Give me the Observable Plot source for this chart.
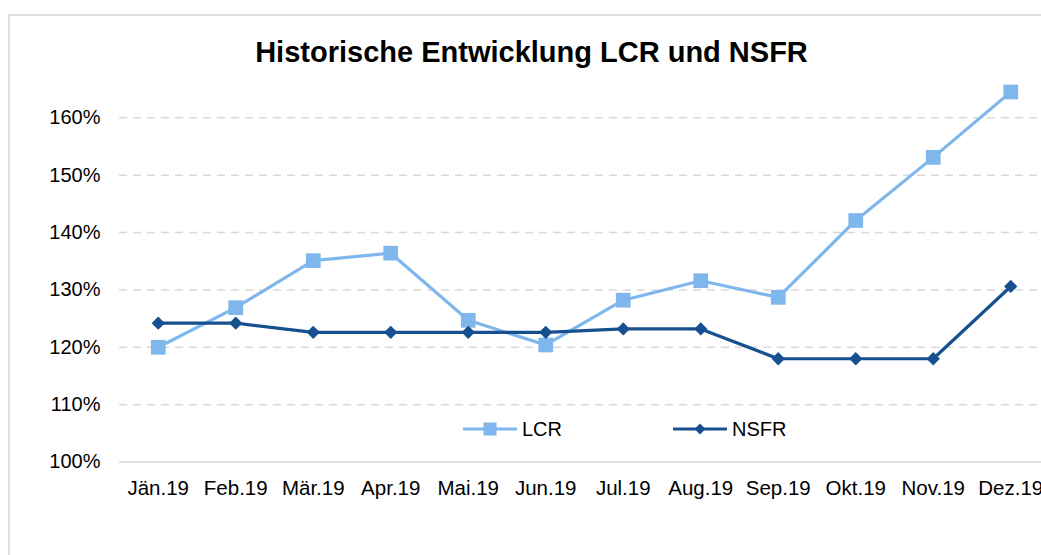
<!DOCTYPE html>
<html>
<head>
<meta charset="utf-8">
<script src="https://cdn.jsdelivr.net/npm/d3@7"></script>
<script src="https://cdn.jsdelivr.net/npm/@observablehq/plot@0.6"></script>
<style>
  html, body { margin: 0; padding: 0; width: 1041px; height: 555px; overflow: hidden; background: #fff; }
  body { position: relative; font-family: "Liberation Sans", Arial, sans-serif; }
  #frame { position: absolute; left: 8px; top: 14px; width: 1100px; height: 600px; border: 2px solid #dedede; box-sizing: border-box; }
  #title { position: absolute; left: 0; width: 1063px; top: 37.5px; text-align: center; font-weight: bold; font-size: 29px; line-height: 1; color: #000; }
  #chart { position: absolute; left: 0; top: 0; width: 1060px; }
  #chart svg { max-width: none !important; }
  #legend { position: absolute; top: 417px; left: 0; width: 100%; height: 24px; font-size: 20px; color: #000; }
  .item { position: absolute; display: flex; align-items: center; height: 24px; }
  .item svg { margin-right: 5px; }
</style>
</head>
<body>
<div id="frame"></div>
<div id="chart"></div>
<div id="title">Historische Entwicklung LCR und NSFR</div>
<div id="legend"></div>
<script>
const months = ["Jän.19","Feb.19","Mär.19","Apr.19","Mai.19","Jun.19","Jul.19","Aug.19","Sep.19","Okt.19","Nov.19","Dez.19"];
const lcr  = [120.0, 126.9, 135.1, 136.4, 124.7, 120.4, 128.2, 131.6, 128.7, 142.1, 153.1, 164.5];
const nsfr = [124.2, 124.2, 122.6, 122.6, 122.6, 122.6, 123.2, 123.2, 118.0, 118.0, 118.0, 130.6];
const yTicks = [100, 110, 120, 130, 140, 150, 160];
const seriesNames = ["LCR", "NSFR"];
const colors = ["#7fb7ec", "#17508f"];

const data = [
  ...months.map((m, i) => ({month: m, value: lcr[i], series: "LCR"})),
  ...months.map((m, i) => ({month: m, value: nsfr[i], series: "NSFR"}))
];
const lcrData = data.filter(d => d.series === "LCR");
const nsfrData = data.filter(d => d.series === "NSFR");

const chart = Plot.plot({
  width: 1060,
  height: 555,
  marginLeft: 119,
  marginRight: 11,
  marginTop: 117.3,
  marginBottom: 93.5,
  style: {fontFamily: "Liberation Sans, Arial, sans-serif", fontSize: "20px", color: "#000", background: "transparent", overflow: "visible", maxWidth: "none"},
  x: {type: "point", domain: months, padding: 0.5, round: false, label: null},
  y: {domain: [100, 160], label: null},
  marks: [
    Plot.ruleY(yTicks.filter(t => t > 100), {stroke: "#d9d9d9", strokeWidth: 1.5, strokeDasharray: "8,6"}),
    Plot.ruleY([100], {stroke: "#d9d9d9", strokeWidth: 1.5}),
    Plot.axisY({ticks: yTicks, tickSize: 0, tickPadding: 19, tickFormat: d => d + "%", fontSize: 20, fill: "#000", label: null}),
    Plot.axisX({tickSize: 0, tickPadding: 18, fontSize: 20.5, fill: "#000", label: null}),
    Plot.line(lcrData, {x: "month", y: "value", stroke: colors[0], strokeWidth: 3.2}),
    Plot.line(nsfrData, {x: "month", y: "value", stroke: colors[1], strokeWidth: 3.2}),
    Plot.dot(lcrData, {x: "month", y: "value", symbol: "square", r: 8.3, fill: colors[0], stroke: "none"}),
    Plot.dot(nsfrData, {x: "month", y: "value", symbol: "diamond2", r: 6, fill: colors[1], stroke: "none"})
  ]
});
document.getElementById("chart").appendChild(chart);

// Legend
const legend = document.getElementById("legend");
const legendLeft = [463, 673];
seriesNames.forEach((name, i) => {
  const item = document.createElement("div");
  item.className = "item";
  item.style.left = legendLeft[i] + "px";
  const marker = i === 0
    ? `<rect x="20.5" y="5.5" width="13" height="13" fill="${colors[0]}"/>`
    : `<path d="M27,6.5 L32.5,12 L27,17.5 L21.5,12 Z" fill="${colors[1]}"/>`;
  item.innerHTML = `<svg width="54" height="24"><line x1="0" x2="54" y1="12" y2="12" stroke="${colors[i]}" stroke-width="3.2"/>${marker}</svg><span>${name}</span>`;
  legend.appendChild(item);
});
</script>
</body>
</html>
